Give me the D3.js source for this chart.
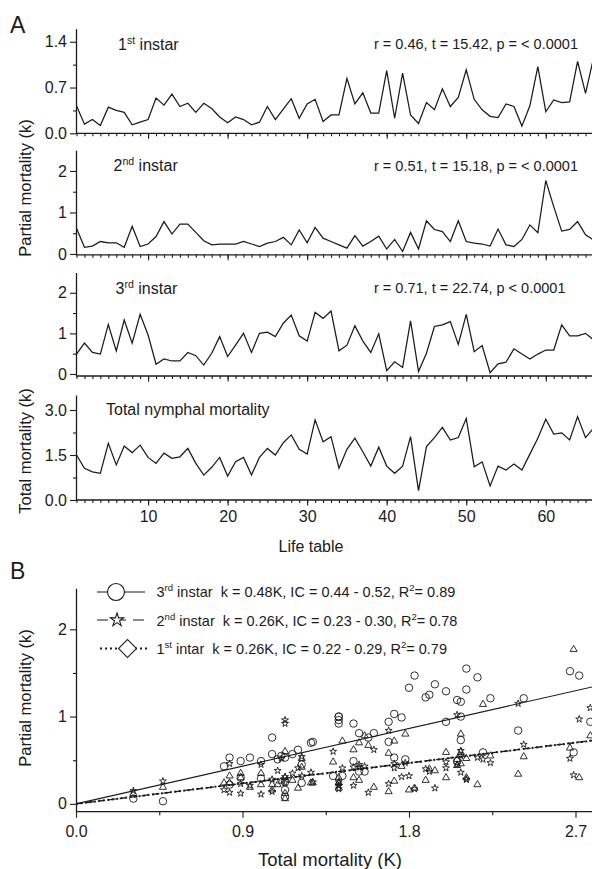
<!DOCTYPE html>
<html>
<head>
<meta charset="utf-8">
<script src="https://cdn.jsdelivr.net/npm/d3@7"></script>
<style>
  body { margin: 0; background: #fff; }
  svg { display: block; font-family: "Liberation Sans", Arial, Helvetica, sans-serif; }
  text { white-space: pre; }
</style>
</head>
<body>
<svg id="chart" width="592" height="869"></svg>
<script>
// ---- data: life tables and mortality (k) per stage ----
const lifeTables = [1,2,3,4,5,6,7,8,9,10,11,12,13,14,15,16,17,18,19,20,21,22,23,24,25,26,27,28,29,30,
  31,32,33,34,35,36,37,38,39,40,41,42,43,44,45,46,47,48,49,50,51,52,53,54,55,56,57,58,59,60,
  61,62,63,64,65,66];
const firstInstar = [0.42,0.14,0.21,0.12,0.40,0.35,0.32,0.13,0.17,0.21,0.54,0.43,0.60,0.41,0.46,0.32,0.46,0.38,0.25,0.16,
  0.25,0.21,0.13,0.17,0.41,0.21,0.37,0.53,0.23,0.45,0.52,0.18,0.28,0.28,0.84,0.45,0.62,0.31,0.31,0.96,
  0.23,0.92,0.28,0.15,0.47,0.36,0.68,0.41,0.55,0.97,0.52,0.36,0.26,0.24,0.45,0.41,0.11,0.42,1.02,0.33,
  0.51,0.47,0.48,1.10,0.61,1.15];
const secondInstar = [0.62,0.16,0.19,0.30,0.27,0.27,0.16,0.67,0.18,0.24,0.42,0.78,0.48,0.72,0.72,0.52,0.32,0.22,0.24,0.24,
  0.24,0.30,0.24,0.18,0.26,0.30,0.40,0.22,0.58,0.27,0.64,0.38,0.30,0.22,0.14,0.44,0.19,0.30,0.43,0.12,
  0.35,0.06,0.52,0.12,0.80,0.59,0.54,0.30,0.80,0.30,0.26,0.24,0.19,0.60,0.22,0.18,0.35,0.70,0.51,1.77,
  1.14,0.55,0.59,0.78,0.46,0.34];
const thirdInstar = [0.49,0.76,0.53,0.49,1.22,0.57,1.33,0.76,1.47,0.96,0.24,0.37,0.32,0.32,0.53,0.45,0.22,0.51,0.92,0.43,
  0.71,1.00,0.53,1.00,1.03,0.92,1.25,1.45,0.94,0.81,1.52,1.37,1.55,0.57,0.71,1.19,0.81,0.53,0.99,0.08,
  0.30,0.16,1.31,0.06,0.51,1.17,1.21,1.29,0.73,1.47,0.55,0.70,0.03,0.25,0.29,0.62,0.49,0.37,0.49,0.59,
  0.59,1.21,0.94,0.94,1.00,0.84];
const totalMortality = [1.50,1.06,0.94,0.89,1.89,1.17,1.80,1.58,1.83,1.42,1.22,1.56,1.39,1.44,1.72,1.22,0.83,1.09,1.42,0.80,
  1.28,1.42,0.83,1.42,1.72,1.50,1.91,2.17,1.69,1.53,2.67,1.94,2.11,1.06,1.69,2.06,1.61,1.13,1.76,1.13,
  0.89,1.13,2.11,0.31,1.78,2.08,2.42,2.00,2.08,2.72,1.11,1.27,0.47,1.13,1.00,1.20,1.00,1.53,2.06,2.69,
  2.20,2.24,2.00,2.78,2.08,2.39];

// fitted slopes k = b * K
const slopeThird = 0.48;
const slopeSecond = 0.26;
const slopeFirst = 0.26;

// tick values
const lifeTableLabels = [10, 20, 30, 40, 50, 60];
const yTicksFirst = [0, 0.7, 1.4], yMinorFirst = [0.35, 1.05];
const yTicksSecond = [0, 1, 2], yMinorSecond = [0.5, 1.5];
const yTicksThird = [0, 1, 2], yMinorThird = [0.5, 1.5];
const yTicksTotal = [0, 1.5, 3.0], yMinorTotal = [0.75, 2.25];
const kTicks = [0, 1, 2], kMinor = [0.5, 1.5];
const KTicks = [0, 0.9, 1.8, 2.7], KMinor = [0.45, 1.35, 2.25];

// ---- drawing ----
const ink = "#1b1b1b";
const svg = d3.select("#chart");
const axisX0 = 76;

const x = d3.scaleLinear().domain([1, 66]).range([76.5, 593.5]);

function styleAxis(g) {
  g.selectAll("path.domain").attr("stroke", ink).attr("stroke-width", 1.3);
  g.selectAll(".tick line").attr("stroke", ink).attr("stroke-width", 1.1);
  g.selectAll(".tick text").attr("fill", ink).attr("font-size", 16)
    .attr("font-family", "Liberation Sans, Arial, sans-serif");
}

function sup(textSel, parts) {
  // parts: [base, superscript, rest]
  textSel.append("tspan").text(parts[0]);
  textSel.append("tspan").attr("dy", -6).attr("font-size", "0.66em").text(parts[1]);
  textSel.append("tspan").attr("dy", 6).text(parts[2]);
}

const panels = [
  { values: firstInstar, domain: [0, 1.6], range: [133.3, 28.7], major: yTicksFirst, minor: yMinorFirst, fmt: d3.format(".1f"),
    title: ["1", "st", " instar"], titleX: 118, titleY: 49.5, stat: "r = 0.46, t = 15.42, p = < 0.0001", statY: 48.5 },
  { values: secondInstar, domain: [-0.02, 2.5], range: [254.8, 150.2], major: yTicksSecond, minor: yMinorSecond, fmt: d3.format("d"),
    title: ["2", "nd", " instar"], titleX: 113.5, titleY: 171, stat: "r = 0.51, t = 15.18, p = < 0.0001", statY: 170.5 },
  { values: thirdInstar, domain: [-0.05, 2.5], range: [376, 272.5], major: yTicksThird, minor: yMinorThird, fmt: d3.format("d"),
    title: ["3", "rd", " instar"], titleX: 115.5, titleY: 294, stat: "r = 0.71, t = 22.74, p < 0.0001", statY: 293 },
  { values: totalMortality, domain: [0, 3.5], range: [500, 395], major: yTicksTotal, minor: yMinorTotal, fmt: d3.format(".1f"),
    title: null, titleX: 106, titleY: 415, stat: null }
];

panels.forEach((p, pi) => {
  const y = d3.scaleLinear().domain(p.domain).range(p.range);
  const g = svg.append("g");

  // y axis
  const ya = g.append("g").attr("transform", `translate(${axisX0},0)`)
    .call(d3.axisLeft(y).tickValues(p.major).tickFormat(p.fmt).tickSize(6).tickSizeOuter(0).tickPadding(3));
  styleAxis(ya);
  const ym = g.append("g").attr("transform", `translate(${axisX0},0)`)
    .call(d3.axisLeft(y).tickValues(p.minor).tickFormat("").tickSize(3).tickSizeOuter(0));
  ym.select("path.domain").remove();
  styleAxis(ym);

  // x axis
  const xa = g.append("g").attr("transform", `translate(0,${p.range[0]})`)
    .call(d3.axisBottom(x).tickValues(lifeTables).tickFormat("").tickSize(3).tickSizeOuter(0));
  styleAxis(xa);
  xa.select("path.domain").attr("d", `M${axisX0},0H592`);
  const xM = g.append("g").attr("transform", `translate(0,${p.range[0]})`)
    .call(d3.axisBottom(x).tickValues(lifeTableLabels)
      .tickFormat(pi === 3 ? d3.format("d") : "").tickSize(5.5).tickSizeOuter(0).tickPadding(5));
  xM.select("path.domain").remove();
  styleAxis(xM);

  // series line
  const line = d3.line().x((d, i) => x(lifeTables[i])).y(d => y(d));
  g.append("path").datum(p.values).attr("d", line)
    .attr("fill", "none").attr("stroke", ink).attr("stroke-width", 1.25).attr("stroke-linejoin", "miter");

  // titles
  if (p.title) {
    const t = g.append("text").attr("x", p.titleX).attr("y", p.titleY).attr("font-size", 16).attr("fill", ink);
    sup(t, p.title);
    g.append("text").attr("x", 374).attr("y", p.statY).attr("font-size", 14.5).attr("fill", ink).text(p.stat);
  } else {
    g.append("text").attr("x", p.titleX).attr("y", p.titleY).attr("font-size", 16).attr("fill", ink)
      .text("Total nymphal mortality");
  }
});

// axis titles, panel A
svg.append("text").attr("transform", "translate(31,188) rotate(-90)").attr("text-anchor", "middle")
  .attr("font-size", 16.5).attr("fill", ink).text("Partial mortality (k)");
svg.append("text").attr("transform", "translate(31,451) rotate(-90)").attr("text-anchor", "middle")
  .attr("font-size", 16.5).attr("fill", ink).text("Total mortality (k)");
svg.append("text").attr("x", 311).attr("y", 552).attr("text-anchor", "middle")
  .attr("font-size", 16).attr("fill", ink).text("Life table");

// panel letters
svg.append("text").attr("x", 10).attr("y", 33).attr("font-size", 23).attr("fill", ink).text("A");
svg.append("text").attr("x", 10).attr("y", 579).attr("font-size", 23).attr("fill", ink).text("B");

// ---- panel B: partial vs total mortality ----
const xB = d3.scaleLinear().domain([0, 2.8]).range([76, 594]);
const yB = d3.scaleLinear().domain([-0.09, 2.47]).range([811.7, 588.3]);
const gB = svg.append("g");

const yaB = gB.append("g").attr("transform", `translate(${axisX0},0)`)
  .call(d3.axisLeft(yB).tickValues(kTicks).tickFormat(d3.format("d")).tickSize(6).tickSizeOuter(0).tickPadding(3));
styleAxis(yaB);
const ymB = gB.append("g").attr("transform", `translate(${axisX0},0)`)
  .call(d3.axisLeft(yB).tickValues(kMinor).tickFormat("").tickSize(3).tickSizeOuter(0));
ymB.select("path.domain").remove();
styleAxis(ymB);

const xaB = gB.append("g").attr("transform", `translate(0,${yB.range()[0]})`)
  .call(d3.axisBottom(xB).tickValues(KTicks).tickFormat(d3.format(".1f")).tickSize(6).tickSizeOuter(0).tickPadding(8));
styleAxis(xaB);
xaB.select("path.domain").attr("d", `M${axisX0},0H592`);
const xmB = gB.append("g").attr("transform", `translate(0,${yB.range()[0]})`)
  .call(d3.axisBottom(xB).tickValues(KMinor).tickFormat("").tickSize(3.5).tickSizeOuter(0));
xmB.select("path.domain").remove();
styleAxis(xmB);

svg.append("text").attr("transform", "translate(31,698) rotate(-90)").attr("text-anchor", "middle")
  .attr("font-size", 16.5).attr("fill", ink).text("Partial mortality (k)");
svg.append("text").attr("x", 330).attr("y", 866).attr("text-anchor", "middle")
  .attr("font-size", 18.5).attr("fill", ink).text("Total mortality (K)");

// regression lines
const Kends = xB.domain();
function regLine(slope, dash, width) {
  gB.append("line")
    .attr("x1", xB(Kends[0])).attr("y1", yB(slope * Kends[0]))
    .attr("x2", xB(Kends[1])).attr("y2", yB(slope * Kends[1]))
    .attr("stroke", ink).attr("stroke-width", width).attr("stroke-dasharray", dash);
}

// scatter symbols
const sym = {
  circle: d3.symbol(d3.symbolCircle, 44)(),
  triangle: d3.symbol(d3.symbolTriangle, 22)(),
  star: d3.symbol(d3.symbolStar, 15)()
};
function scatter(values, shape) {
  gB.append("g").selectAll("path").data(values).join("path")
    .attr("d", sym[shape])
    .attr("transform", (d, i) => `translate(${xB(totalMortality[i])},${yB(d)})`)
    .attr("fill", "none").attr("stroke", ink).attr("stroke-width", 0.9);
}
scatter(thirdInstar, "circle");
scatter(secondInstar, "triangle");
scatter(firstInstar, "star");

regLine(slopeThird, null, 1.1);
regLine(slopeSecond, "7,4", 1.3);
regLine(slopeFirst, "2,2.5", 2);

// legend
const legRows = [
  { y: 592, dash: null, width: 1.1, x1: 97, x2: 145, symbol: d3.symbol(d3.symbolCircle, 227)(), sx: 116, rot: 0,
    text: ["3", "rd", " instar  k = 0.48K, IC = 0.44 - 0.52, R"], tail: "= 0.89", base: 596.5 },
  { y: 620, dash: "11,7", width: 1.1, x1: 97, x2: 147, symbol: d3.symbol(d3.symbolStar, 55)(), sx: 117, rot: 0,
    text: ["2", "nd", " instar  k = 0.26K, IC = 0.23 - 0.30, R"], tail: "= 0.78", base: 625.5 },
  { y: 648.5, dash: "2,3", width: 2, x1: 100, x2: 147, symbol: d3.symbol(d3.symbolSquare, 160)(), sx: 127.5, rot: 45,
    text: ["1", "st", " intar  k = 0.26K, IC = 0.22 - 0.29, R"], tail: "= 0.79", base: 654 }
];
legRows.forEach(r => {
  gB.append("line").attr("x1", r.x1).attr("x2", r.x2).attr("y1", r.y).attr("y2", r.y)
    .attr("stroke", ink).attr("stroke-width", r.width).attr("stroke-dasharray", r.dash);
  gB.append("path").attr("d", r.symbol)
    .attr("transform", `translate(${r.sx},${r.y}) rotate(${r.rot})`)
    .attr("fill", "#fff").attr("stroke", ink).attr("stroke-width", 1.1);
  const t = gB.append("text").attr("x", 156.5).attr("y", r.base).attr("font-size", 14.5).attr("fill", ink);
  sup(t, r.text);
  t.append("tspan").attr("dy", -6).attr("font-size", "0.66em").text("2");
  t.append("tspan").attr("dy", 6).text(r.tail);
});
</script>
</body>
</html>
